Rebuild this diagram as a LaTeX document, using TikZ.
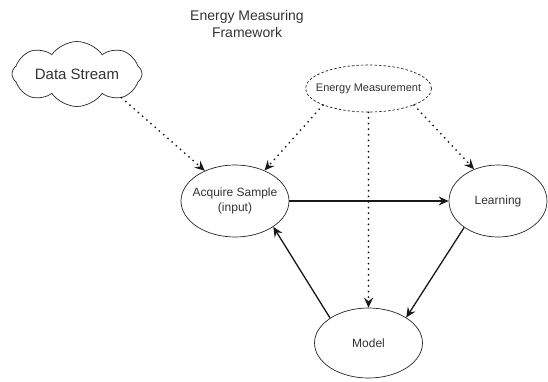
\documentclass[tikz,border=0pt]{standalone}
\usepackage{fontspec}
\setmainfont{Liberation Sans}
\usetikzlibrary{arrows.meta, positioning, shapes.geometric, shapes.symbols}

\begin{document}
\begin{tikzpicture}[x=1pt, y=-1pt, on grid, text=black!80,
        stage/.style={ellipse, draw=black!85, line width=0.7pt, minimum width=108pt,
            minimum height=72pt, inner sep=-20pt, align=center, font=\fontsize{12}{14.5}\selectfont},
        meter/.style={ellipse, draw=black!85, line width=0.7pt, dash pattern=on 2.5pt off 2pt,
            minimum width=126pt, minimum height=47pt, inner sep=-25pt, font=\fontsize{11}{13}\selectfont},
        source/.style={cloud, cloud puffs=8, cloud puff arc=110, cloud ignores aspect, draw=black!85,
            line width=0.7pt, minimum width=130pt, minimum height=65pt, inner xsep=-20pt,
            inner ysep=-10pt, font=\fontsize{15}{18}\selectfont},
        flow/.style={draw=black!90, line width=1.3pt, -{Stealth[length=10pt, width=9pt, inset=3.5pt]}},
        meas/.style={draw=black!90, line width=2pt, dash pattern=on 0pt off 5.6pt, line cap=round,
            -{Stealth[length=10pt, width=9pt, inset=3.5pt, line cap=butt]}}]
    \useasboundingbox (0,0) rectangle (548,381);
    \node (title) at (247,23.5) [align=center, font=\fontsize{14}{17}\selectfont] {Energy Measuring\\Framework};
    \node[source] (cloud) at (77,74) {Data Stream};
    \node[stage] (acq) at (235,201) {Acquire Sample\\(input)};
    \node[stage, minimum width=98pt] (learn) [right=263pt of acq] {Learning};
    \node[stage, minimum height=70pt] (model) [below right=142pt and 133.5pt of acq] {Model};
    \node[meter] (em) [above right=112.5pt and 133.5pt of acq] {Energy Measurement};
    % solid flow between the stages
    \draw[flow] (acq) -- (learn);
    \draw[flow] (learn.218) -- (model.34);
    \draw[flow] (model.147) -- (acq.-34);
    % dotted inputs and measurement
    \draw[meas] (cloud.-28) -- (acq.135);
    \draw[meas] (em.200) -- (acq.46);
    \draw[meas] (em) -- (model);
    \draw[meas] (em.-20) -- (learn.127);
\end{tikzpicture}
\end{document}
